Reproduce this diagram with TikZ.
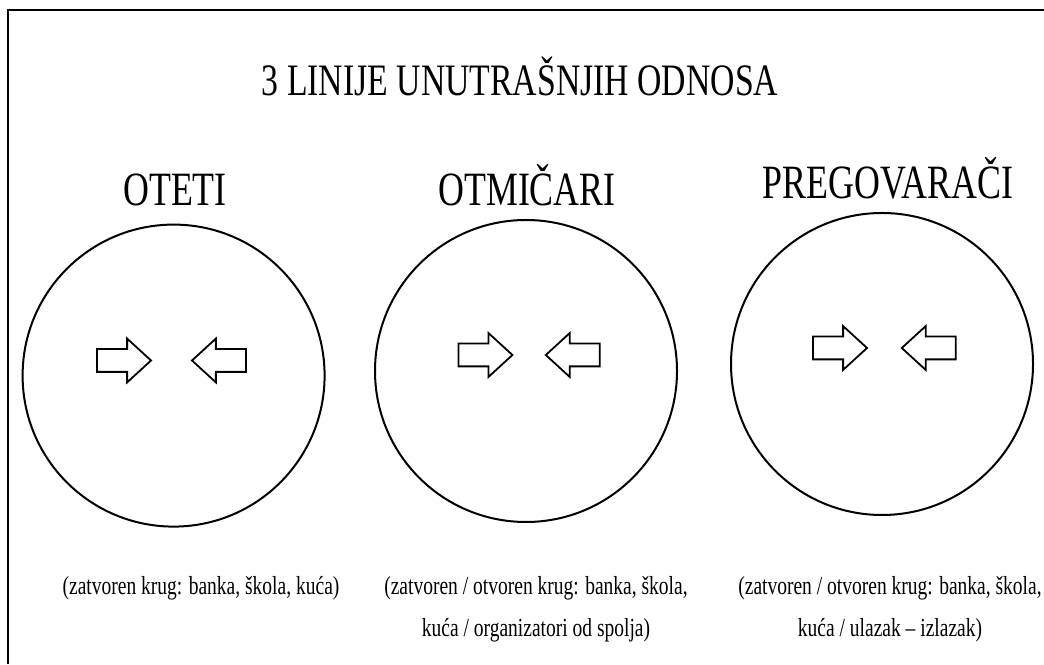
\documentclass[tikz,border=0pt]{standalone}
\usepackage{fontspec}
\setmainfont[FakeStretch=0.75]{Liberation Serif}
\usetikzlibrary{shapes.arrows}

\tikzset{
  krug/.style={draw, circle, line width=0.05cm, minimum size=7.55cm, inner sep=0pt},
  strelica/.style={draw, single arrow, line width=0.045cm, minimum height=1.35cm,
    minimum width=1.05cm, single arrow head extend=0.2625cm,
    single arrow tip angle=85, inner xsep=0pt, inner ysep=0.2625cm},
  naslov/.style={font=\fontsize{32}{38}\selectfont},
  podnaslov/.style={font=\fontsize{34}{40}\selectfont},
  opis/.style={font=\fontsize{18.5}{30}\selectfont, align=center},
}

\begin{document}
\begin{tikzpicture}
\useasboundingbox (0,0) rectangle (26.1,16.6);

% Drawing frame (top and left side only)
\draw [line width=0.07cm] (0.2,0) -- (0.2,16.35) -- (26.1,16.35);%

% Title
\node [naslov] (title) at (13.0,14.7) {3 LINIJE UNUTRAŠNJIH ODNOSA};%

% Circle OTETI
\node [podnaslov] (oteti) at (4.375,11.85) {OTETI};%
\node [krug] (krugA) at (4.34,7.21) {};%
\node [strelica] (desnoA) at (2.945,7.5875) {};%
\node [strelica, shape border rotate=180] (lijevoA) at (5.63,7.5875) {};%
\node [opis] (opisA) at (5.025,1.9) {(zatvoren krug: banka, škola, kuća)};%

% Circle OTMICARI
\node [podnaslov] (otmicari) at (13.175,11.975) {OTMIČARI};%
\node [krug] (krugB) at (13.15,7.325) {};%
\node [strelica] (desnoB) at (11.98,7.725) {};%
\node [strelica, shape border rotate=180] (lijevoB) at (14.475,7.725) {};%
\node [opis] (opisB) at (13.4,1.375) {(zatvoren / otvoren krug: banka, škola,\\ kuća / organizatori od spolja)};%

% Circle PREGOVARACI
\node [podnaslov] (pregovaraci) at (22.2,12.15) {PREGOVARAČI};%
\node [krug] (krugC) at (22.05,7.5) {};%
\node [strelica] (desnoC) at (20.845,7.9) {};%
\node [strelica, shape border rotate=180] (lijevoC) at (23.375,7.9) {};%
\node [opis] (opisC) at (22.25,1.375) {(zatvoren / otvoren krug: banka, škola,\\ kuća / ulazak – izlazak)};%
\end{tikzpicture}
\end{document}
